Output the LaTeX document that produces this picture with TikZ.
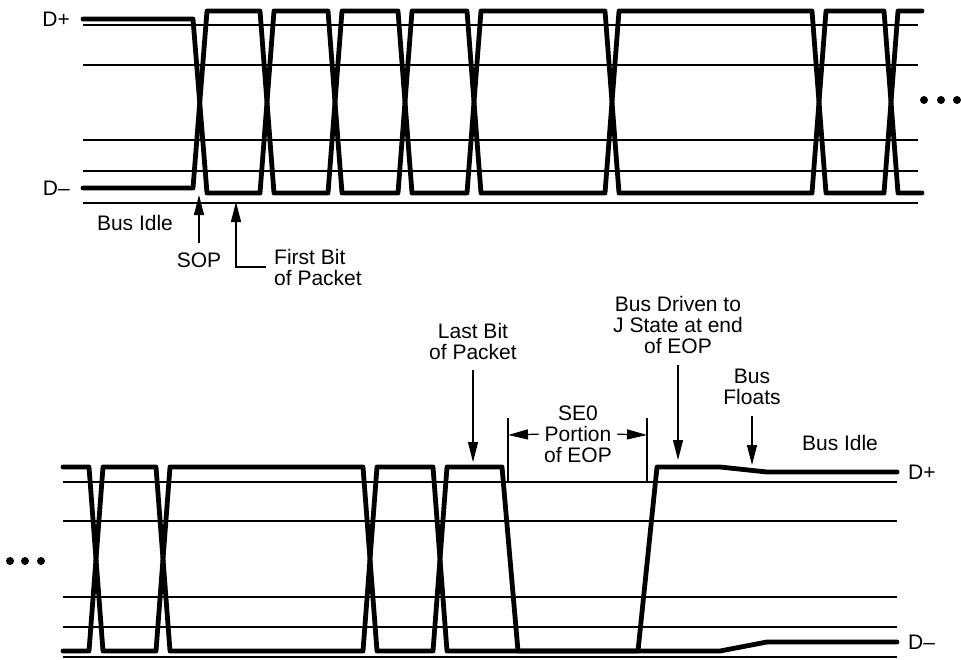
\documentclass[tikz,border=0pt]{standalone}
\usepackage{fontspec}
\setmainfont{Liberation Sans}
\usetikzlibrary{arrows.meta, positioning}

\begin{document}
\begin{tikzpicture}[
  x=1pt, y=-1pt,
  wave/.style={line width=4.8pt, line join=round, line cap=round},
  grid/.style={line width=1.2pt},
  lbl/.style={font=\fontsize{21}{21}\selectfont, inner sep=1pt, align=center},
  arr/.style={-{Triangle[length=20pt, width=10pt]}, line width=1.2pt}
]
\useasboundingbox (0,0) rectangle (961,659);

% top trace: start of packet
\foreach \y in {25,65,140,171,203}
  \draw[grid] (83,\y) -- (918,\y);
\draw[wave] (83,19) -- (193,19) -- (207,193) -- (260,193) -- (274,11) -- (328,11)
  -- (342,193) -- (398,193) -- (412,11) -- (467,11) -- (481,193) -- (605,193)
  -- (619,11) -- (812,11) -- (826,193) -- (884,193) -- (898,11) -- (922,11);
\draw[wave] (83,188) -- (193,188) -- (207,11) -- (260,11) -- (274,193) -- (328,193)
  -- (342,11) -- (398,11) -- (412,193) -- (467,193) -- (481,11) -- (605,11)
  -- (619,193) -- (812,193) -- (826,11) -- (884,11) -- (898,193) -- (922,193);
\foreach \x in {924,941,957}
  \fill (\x,100) circle (4pt);

\coordinate (topP) at (83,19);
\coordinate (topM) at (83,188);
\node[lbl, left=12pt of topP] (dpA) {D+};
\node[lbl, left=12pt of topM] (dmA) {D--};

\node[lbl] (idleA) at (135,223) {Bus Idle};
\node[lbl] (sop) at (199,260) {SOP};
\node[lbl, align=left, anchor=west] (firstbit) at (273,267) {First Bit\\of Packet};
\coordinate (sopTip) at (199,195);
\coordinate (fbTip) at (236,202);
\draw[arr, shorten <=8pt] (sop) -- (sopTip);
\draw[arr, shorten <=7pt] (firstbit.west) -| (fbTip);

% bottom trace: end of packet
\foreach \y in {482,521,597,627,657}
  \draw[grid] (63,\y) -- (897,\y);
\draw[wave] (63,467) -- (89,467) -- (103,651) -- (156,651) -- (170,467) -- (363,467)
  -- (377,651) -- (433,651) -- (447,467) -- (502,467) -- (518,651) -- (638,651)
  -- (657,467) -- (720,467) -- (767,472) -- (897,472);
\draw[wave] (63,651) -- (89,651) -- (103,467) -- (156,467) -- (170,651) -- (363,651)
  -- (377,467) -- (433,467) -- (447,651) -- (720,651) -- (767,642) -- (897,642);
\foreach \x in {10,25,41}
  \fill (\x,561) circle (4pt);

\coordinate (botP) at (897,472);
\coordinate (botM) at (897,642);
\node[lbl, right=10pt of botP] (dpB) {D+};
\node[lbl, right=10pt of botM] (dmB) {D--};

\node[lbl] (lastbit) at (473,341) {Last Bit\\of Packet};
\node[lbl] (se0) at (578,434) {SE0\\Portion\\of EOP};
\node[lbl] (driven) at (678,325) {Bus Driven to\\J State at end\\of EOP};
\node[lbl] (floats) at (752,387) {Bus\\Floats};
\node[lbl] (idleB) at (840,443) {Bus Idle};

\coordinate (lbTip) at (473,462);
\coordinate (drTip) at (678,460);
\coordinate (flTip) at (752,465);
\coordinate (se0L) at (508,435);
\coordinate (se0R) at (647,435);
\draw[grid] (508,418) -- (se0L) -- (508,482);
\draw[grid] (647,418) -- (se0R) -- (647,482);
\draw[arr, shorten <=10pt] (lastbit) -- (lbTip);
\draw[arr, shorten <=10pt] (driven) -- (drTip);
\draw[arr, shorten <=10pt] (floats) -- (flTip);
\draw[arr, shorten <=4pt] (se0.west) -- (se0L);
\draw[arr, shorten <=4pt] (se0.east) -- (se0R);
\end{tikzpicture}
\end{document}
